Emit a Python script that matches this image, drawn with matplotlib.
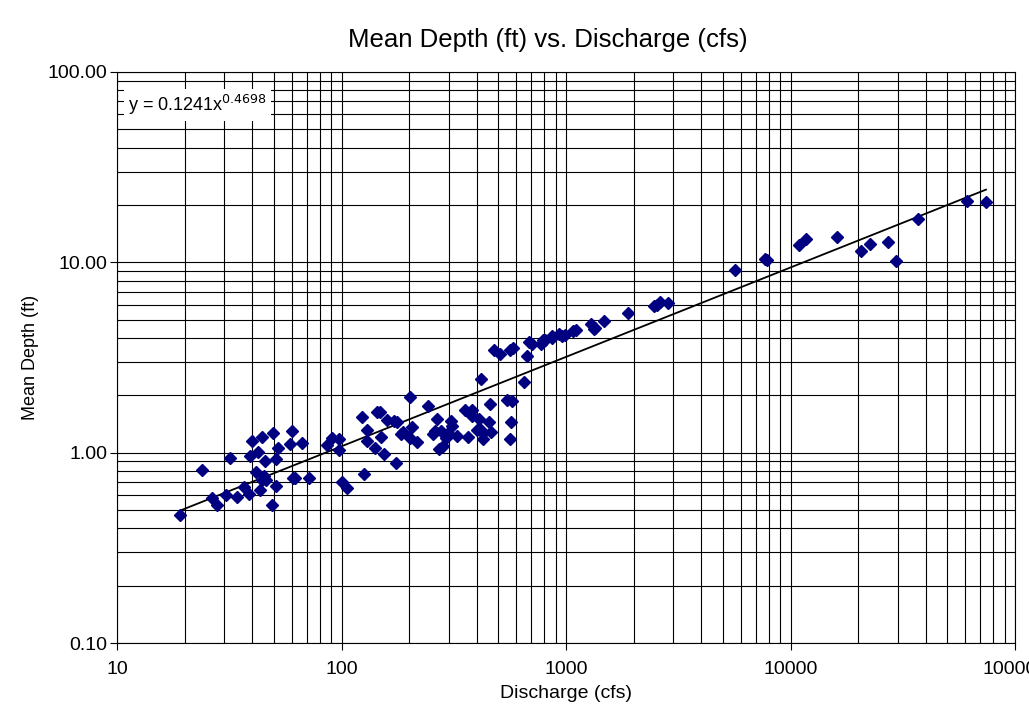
import matplotlib.pyplot as plt
import numpy as np
from matplotlib.ticker import LogLocator, FixedLocator, FixedFormatter, NullFormatter

plt.rcParams['font.family'] = ['Liberation Sans', 'DejaVu Sans']

# discharge (cfs) and mean depth (ft)
discharge = [19.1, 24.0, 26.4, 28.0, 30.6, 32.0, 34.3, 36.7, 38.8, 40.1,
             39.1, 41.7, 42.6, 44.4, 43.5, 45.5, 45.3, 46.1, 44.1, 49.4,
             52.3, 51.2, 51.2, 49.2, 60.0, 58.8, 60.6, 62.0, 66.7, 71.6,
             85.9, 91.0, 97.2, 97.5, 100.5, 105.5, 123.8, 126.4, 130.3, 130.3,
             141.0, 144.4, 148.0, 150.4, 155.1, 160.0, 170.8, 177.3, 175.4, 184.6,
             187.8, 201.9, 201.9, 206.1, 217.6, 243.6, 254.8, 261.7, 266.3, 278.3,
             271.8, 283.2, 292.1, 299.1, 306.5, 309.7, 327.0, 419.5, 648.0, 354.9,
             382.4, 382.4, 458.6, 411.0, 455.4, 400.2, 418.2, 425.5, 428.2, 463.3,
             364.9, 544.3, 576.6, 568.9, 563.1, 477.8, 509.7, 582.6, 565.0, 672.4,
             682.2, 703.5, 771.5, 787.5, 803.8, 863.8, 869.0, 933.6, 962.8, 989.7,
             1078, 1108, 1288, 1333, 1351, 1481, 1898, 2466, 2535, 2616,
             2856, 5631, 7660, 7884, 10910, 11760, 16110, 20680, 22670, 27270,
             29600, 37100, 61120, 74260]
depth = [0.469, 0.811, 0.578, 0.529, 0.597, 0.938, 0.585, 0.661, 0.609, 1.152,
         0.956, 0.792, 1.012, 1.209, 0.634, 0.908, 0.751, 0.716, 0.722, 1.269,
         1.059, 0.927, 0.669, 0.531, 1.300, 1.106, 0.737, 0.737, 1.128, 0.733,
         1.101, 1.194, 1.180, 1.028, 0.704, 0.653, 1.545, 0.773, 1.320, 1.146,
         1.059, 1.635, 1.627, 1.209, 0.988, 1.490, 1.467, 1.449, 0.886, 1.258,
         1.278, 1.960, 1.194, 1.358, 1.142, 1.750, 1.258, 1.294, 1.503, 1.305,
         1.049, 1.088, 1.194, 1.269, 1.460, 1.374, 1.228, 2.437, 2.350, 1.675,
         1.682, 1.564, 1.801, 1.503, 1.449, 1.320, 1.320, 1.269, 1.180, 1.289,
         1.209, 1.891, 1.868, 1.449, 1.184, 3.460, 3.309, 3.528, 3.450, 3.203,
         3.793, 3.734, 3.703, 3.886, 3.920, 4.078, 4.000, 4.178, 4.113, 4.148,
         4.332, 4.406, 4.715, 4.461, 4.532, 4.930, 5.413, 5.910, 6.003, 6.152,
         6.107, 9.11, 10.41, 10.24, 12.31, 13.24, 13.56, 11.49, 12.51, 12.81,
         10.18, 16.86, 20.96, 20.70]

# power-law trendline shown on the chart
coef = 0.1241
expo = 0.4698

x_ticks = [10, 100, 1000, 10000, 100000]
x_labels = ['10', '100', '1000', '10000', '100000']
y_ticks = [0.1, 1, 10, 100]
y_labels = ['0.10', '1.00', '10.00', '100.00']

fig = plt.figure(figsize=(10.29, 7.10), dpi=100)
ax = fig.add_axes([117/1029, 1 - 643/710, (1015 - 117)/1029, (643 - 72)/710])

ax.set_xscale('log')
ax.set_yscale('log')
ax.set_xlim(10, 100000)
ax.set_ylim(0.1, 100)

ax.xaxis.set_major_locator(FixedLocator(x_ticks))
ax.xaxis.set_major_formatter(FixedFormatter(x_labels))
ax.yaxis.set_major_locator(FixedLocator(y_ticks))
ax.yaxis.set_major_formatter(FixedFormatter(y_labels))
ax.xaxis.set_minor_locator(LogLocator(base=10, subs=np.arange(2, 10), numticks=20))
ax.yaxis.set_minor_locator(LogLocator(base=10, subs=np.arange(2, 10), numticks=20))
ax.xaxis.set_minor_formatter(NullFormatter())
ax.yaxis.set_minor_formatter(NullFormatter())

ax.grid(True, which='both', color='black', linewidth=0.8)
ax.set_axisbelow(True)
ax.tick_params(which='major', direction='out', length=5, width=0.8, labelsize=14)
ax.tick_params(axis='x', which='major', pad=8)
ax.tick_params(axis='y', which='major', pad=2)
ax.tick_params(which='minor', length=0)
for s in ax.spines.values():
    s.set_linewidth(0.8)

xs = np.logspace(np.log10(min(discharge)), np.log10(max(discharge)), 200)
ax.plot(xs, coef * xs ** expo, color='black', linewidth=1.3, zorder=3)
ax.plot(discharge, depth, linestyle='none', marker='D', markersize=6,
        color='#000080', zorder=4)

fig.text(128/1029, 1 - 105/710, 'y = 0.1241x$^{0.4698}$', fontsize=13,
         va='center', ha='left',
         bbox=dict(facecolor='white', edgecolor='none', pad=3))

fig.text(548/1029, 1 - 40/710, 'Mean Depth (ft) vs. Discharge (cfs)',
         fontsize=18.5, ha='center', va='center')
ax.set_xlabel('Discharge (cfs)', fontsize=14, labelpad=5)
ax.set_ylabel('Mean Depth (ft)', fontsize=13, labelpad=6)

plt.savefig('out.png', dpi=100)
